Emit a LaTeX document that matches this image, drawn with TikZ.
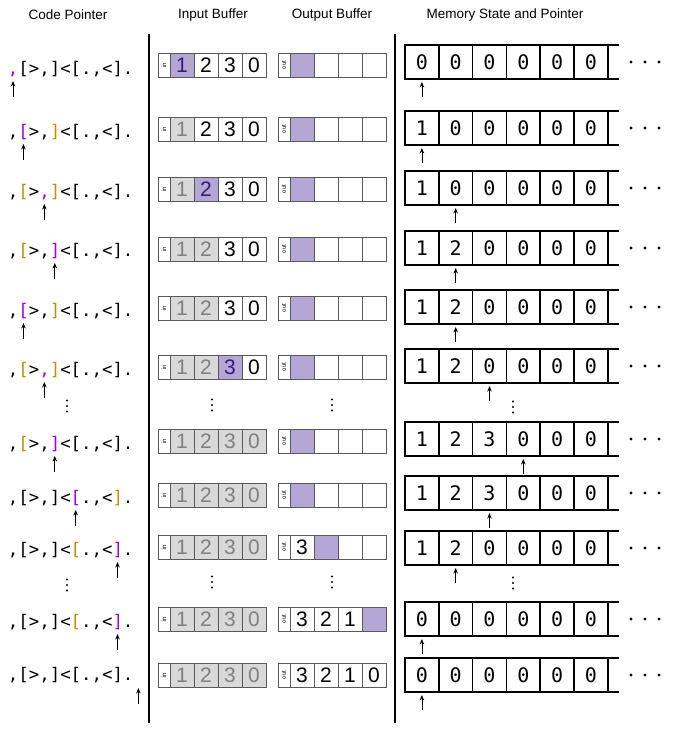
\documentclass[tikz,border=0pt]{standalone}
\usepackage{fontspec}
\setmainfont{Liberation Sans}
\newfontfamily\monof{DejaVu Sans Mono}
\newfontfamily\memf{DejaVu Sans Mono}[RawFeature=+zero]
\usetikzlibrary{arrows.meta}
\definecolor{cpur}{HTML}{9900FF}
\definecolor{corg}{HTML}{BF9000}
\definecolor{hfill}{HTML}{B4A7D6}
\definecolor{htext}{HTML}{351C75}
\definecolor{gfill}{HTML}{D9D9D9}
\definecolor{gtext}{HTML}{808080}
\definecolor{bord}{HTML}{595959}
\newcommand\pu[1]{\textcolor{cpur}{#1}}
\newcommand\og[1]{\textcolor{corg}{#1}}
\newcommand\coderow[5]{%
  \node[code] (c#1) at (7.8,#2) {#3};
  \coordinate (c#1t) at ({13+10.45*#4},{#2+#5});
  \coordinate (c#1b) at ({13+10.45*#4},{#2+#5+16});
  \draw[ptr] (c#1b) -- (c#1t);
}
\newcommand\bufrow[4]{%
  \node[lab] (in#1) at (164,#2) {\rotatebox{90}{in}};
  \foreach \s/\t [count=\i] in {#3} {\node[\s] (in#1c\i) at ({158+24*\i},#2) {\t};}
  \node[lab] (out#1) at (284,#2) {\rotatebox{90}{out}};
  \foreach \s/\t [count=\i] in {#4} {\node[\s] (out#1c\i) at ({278+24*\i},#2) {\t};}
}
\newcommand\memrow[4]{%
  \foreach \d [count=\i] in {#3} {\node[mcell] (m#1c\i) at ({405+33.8*\i-16.9},#2) {\d};}
  \draw[mline] (m#1c6.north east) -- ++(11,0);
  \draw[mline] (m#1c6.south east) -- ++(11,0);
  \foreach \k in {0,1,2} {\fill ({631+14*\k},#2) circle (1.6);}
  \coordinate (m#1t) at ([yshift=-3pt]m#1c#4.south);
  \coordinate (m#1b) at ([yshift=-18pt]m#1c#4.south);
  \draw[ptr] (m#1b) -- (m#1t);
}
\newcommand\vdotz[2]{\foreach \k in {-1,0,1} {\fill (#1,{#2+5.5*\k}) circle (1.2);}}
\begin{document}
\begin{tikzpicture}[x=1pt,y=-1pt,
  hdr/.style={font=\fontsize{13.5}{16}\selectfont, inner sep=0},
  code/.style={font=\monof\fontsize{17.36}{20}\selectfont, anchor=west, inner sep=0, text=black},
  ptr/.style={-{Stealth[length=5.5pt,width=4.5pt]}, line width=0.8pt},
  sep/.style={line width=1.2pt},
  bcell/.style={draw=bord, line width=0.6pt, minimum width=24pt, minimum height=24pt, inner sep=0, outer sep=0, font=\fontsize{21}{21}\selectfont},
  cur/.style={bcell, fill=hfill, text=htext},
  used/.style={bcell, fill=gfill, text=gtext},
  new/.style={bcell, fill=white, text=black},
  slot/.style={bcell, fill=hfill},
  lab/.style={draw=bord, line width=0.6pt, minimum width=12pt, minimum height=24pt, inner sep=0, outer sep=0, fill=white, font=\fontsize{6}{6}\selectfont},
  mcell/.style={draw=black, line width=1.5pt, minimum width=33.8pt, minimum height=34pt, inner sep=0, outer sep=0, font=\memf\fontsize{20}{20}\selectfont},
  mline/.style={line width=1.5pt},
]
\useasboundingbox (0,0) rectangle (677,730);
\fill[white] (0,0) rectangle (677,730);
% headers
\node[hdr] (h1) at (68,15) {Code Pointer};
\node[hdr] (h2) at (213,15) {Input Buffer};
\node[hdr] (h3) at (332,15) {Output Buffer};
\node[hdr] (h4) at (505,15) {Memory State and Pointer};
% separators
\coordinate (s1t) at (149,34); \coordinate (s1b) at (149,723);
\coordinate (s2t) at (395,34); \coordinate (s2b) at (395,723);
\draw[sep] (s1t) -- (s1b);
\draw[sep] (s2t) -- (s2b);
% code pointer column
\coderow{1}{69}{\pu{,}[>,]<[.,<].}{0}{12}
\coderow{2}{132}{,\pu{[}>,\og{]}<[.,<].}{1}{12}
\coderow{3}{192}{,\og{[}>\pu{,}\og{]}<[.,<].}{3}{12}
\coderow{4}{251}{,\og{[}>,\pu{]}<[.,<].}{4}{12}
\coderow{5}{311}{,\pu{[}>,\og{]}<[.,<].}{1}{12}
\coderow{6}{370}{,\og{[}>\pu{,}\og{]}<[.,<].}{3}{12}
\coderow{7}{444}{,\og{[}>,\pu{]}<[.,<].}{4}{12}
\coderow{8}{498}{,[>,]<\pu{[}.,<\og{]}.}{6}{12}
\coderow{9}{550}{,[>,]<\og{[}.,<\pu{]}.}{10}{12}
\coderow{10}{622}{,[>,]<\og{[}.,<\pu{]}.}{10}{12}
\coderow{11}{675}{,[>,]<[.,<].}{12}{13}
\vdotz{67}{406}
\vdotz{67}{585}
% buffers
\bufrow{1}{65}{cur/1,new/2,new/3,new/0}{slot/{},new/{},new/{},new/{}}
\bufrow{2}{129}{used/1,new/2,new/3,new/0}{slot/{},new/{},new/{},new/{}}
\bufrow{3}{189}{used/1,cur/2,new/3,new/0}{slot/{},new/{},new/{},new/{}}
\bufrow{4}{249}{used/1,used/2,new/3,new/0}{slot/{},new/{},new/{},new/{}}
\bufrow{5}{308}{used/1,used/2,new/3,new/0}{slot/{},new/{},new/{},new/{}}
\bufrow{6}{367}{used/1,used/2,cur/3,new/0}{slot/{},new/{},new/{},new/{}}
\bufrow{7}{441}{used/1,used/2,used/3,used/0}{slot/{},new/{},new/{},new/{}}
\bufrow{8}{495}{used/1,used/2,used/3,used/0}{slot/{},new/{},new/{},new/{}}
\bufrow{9}{547}{used/1,used/2,used/3,used/0}{new/3,slot/{},new/{},new/{}}
\bufrow{10}{619}{used/1,used/2,used/3,used/0}{new/3,new/2,new/1,slot/{}}
\bufrow{11}{675}{used/1,used/2,used/3,used/0}{new/3,new/2,new/1,new/0}
\vdotz{212}{405}
\vdotz{212}{582}
\vdotz{332}{405}
\vdotz{332}{582}
% memory
\memrow{1}{62}{0,0,0,0,0,0}{1}
\memrow{2}{128}{1,0,0,0,0,0}{1}
\memrow{3}{188}{1,0,0,0,0,0}{2}
\memrow{4}{248}{1,2,0,0,0,0}{2}
\memrow{5}{307}{1,2,0,0,0,0}{2}
\memrow{6}{366}{1,2,0,0,0,0}{3}
\memrow{7}{439}{1,2,3,0,0,0}{4}
\memrow{8}{493}{1,2,3,0,0,0}{3}
\memrow{9}{548}{1,2,0,0,0,0}{2}
\memrow{10}{619}{0,0,0,0,0,0}{1}
\memrow{11}{675}{0,0,0,0,0,0}{1}
\vdotz{513}{407}
\vdotz{513}{583}
\end{tikzpicture}
\end{document}
